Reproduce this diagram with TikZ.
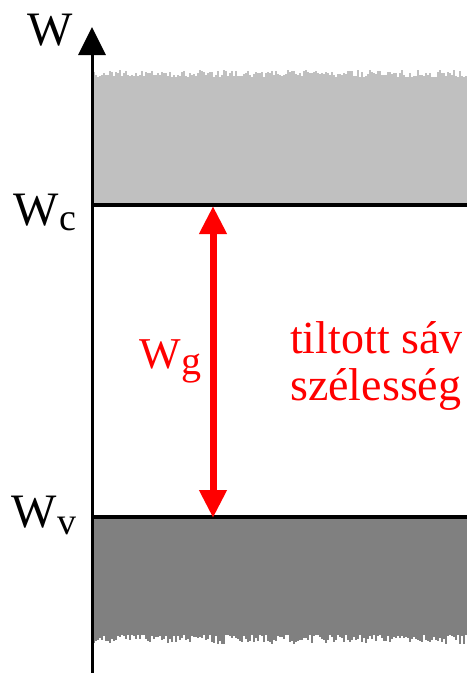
\documentclass[tikz,border=0pt]{standalone}
\usepackage{fontspec}
\setmainfont{Liberation Serif}
\usetikzlibrary{arrows.meta}
\definecolor{bandlight}{RGB}{192,192,192}
\definecolor{banddark}{RGB}{128,128,128}
\definecolor{gapred}{RGB}{255,0,0}
\begin{document}
\begin{tikzpicture}[x=1pt,y=-1pt,
  level/.style={line width=4pt,black},
  axisline/.style={line width=3pt,black,-{Triangle[length=28pt,width=27pt]}},
  gaparrow/.style={line width=7pt,gapred,{Triangle[length=28pt,width=26pt]}-{Triangle[length=28pt,width=26pt]}},
  lbl/.style={inner sep=0pt,anchor=base west,font=\fontsize{48}{48}\selectfont},
  redlbl/.style={inner sep=0pt,anchor=base west,text=gapred,font=\fontsize{46}{46}\selectfont}]
\useasboundingbox (0,0) rectangle (467,673);
% bands
\fill[bandlight] (93,77) rectangle (467,205);
\fill[banddark] (93,517) rectangle (467,634);
\pgfmathsetseed{11}
\foreach \i in {0,...,186}{
  \pgfmathsetmacro\h{rnd*7}
  \pgfmathsetmacro\g{rnd*10}
  \fill[bandlight] (93+2*\i,77) rectangle ++(2,-\h);
  \fill[banddark] (93+2*\i,634) rectangle ++(2,\g);
}
% level lines
\coordinate (cl) at (92,205);
\coordinate (cr) at (467,205);
\coordinate (vl) at (92,517);
\coordinate (vr) at (467,517);
\draw[level] (cl) -- (cr);
\draw[level] (vl) -- (vr);
% axis
\coordinate (axb) at (92,673);
\coordinate (axt) at (92,27);
\draw[axisline] (axb) -- (axt);
% gap arrow
\coordinate (gc) at (213,206);
\coordinate (gv) at (213,518);
\draw[gaparrow] (gv) -- (gc);
% labels
\node[lbl] (w) at (27,45) {W};
\node[lbl] (wc) at (13,225) {W\kern1pt\raisebox{-5pt}{\fontsize{38}{38}\selectfont c}};
\node[lbl] (wv) at (11,527) {W\kern1pt\raisebox{-7pt}{\fontsize{38}{38}\selectfont v}};
\node[redlbl,font=\fontsize{44}{44}\selectfont] (wg) at (139,368) {W\kern1pt\raisebox{-6pt}{\fontsize{40}{40}\selectfont g}};
\node[redlbl] (t1) at (290,353) {tiltott sáv};
\node[redlbl] (t2) at (290,400) {szélesség};
\end{tikzpicture}
\end{document}
